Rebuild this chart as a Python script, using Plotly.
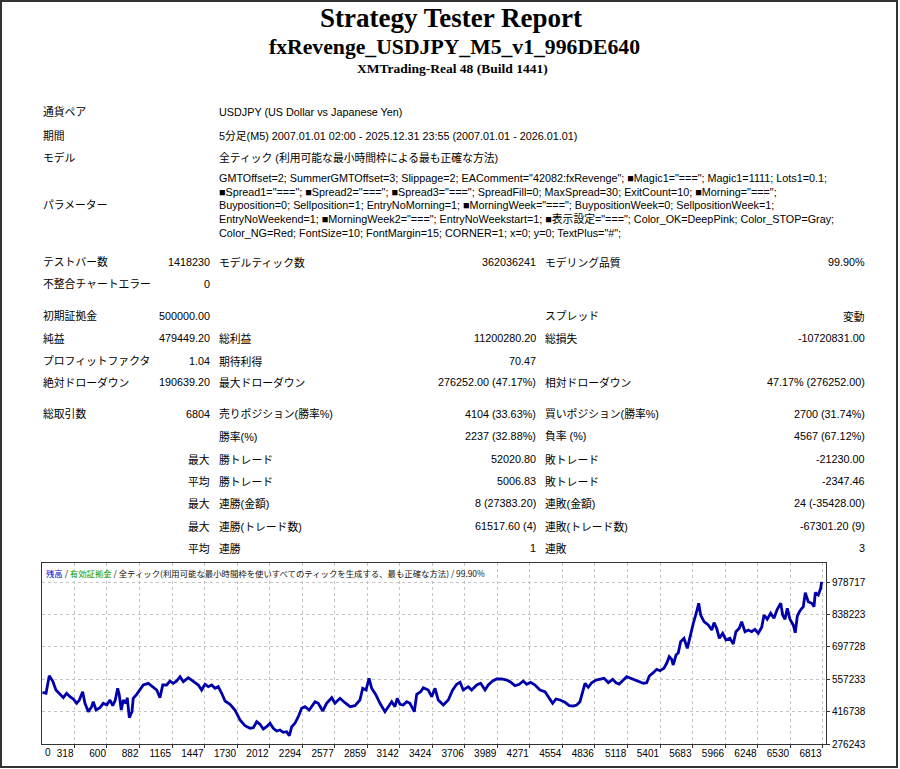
import plotly.graph_objects as go

# ---- report text ----
title_lines = ["Strategy Tester Report", "fxRevenge_USDJPY_M5_v1_996DE640", "XMTrading-Real 48 (Build 1441)"]

info_labels = ["通貨ペア", "期間", "モデル"]
info_values = [
    "USDJPY (US Dollar vs Japanese Yen)",
    "5分足(M5) 2007.01.01 02:00 - 2025.12.31 23:55 (2007.01.01 - 2026.01.01)",
    "全ティック (利用可能な最小時間枠による最も正確な方法)",
]
param_label = "パラメーター"
param_lines = [
    'GMTOffset=2; SummerGMTOffset=3; Slippage=2; EAComment="42082:fxRevenge"; ■Magic1="==="; Magic1=1111; Lots1=0.1;',
    '■Spread1="==="; ■Spread2="==="; ■Spread3="==="; SpreadFill=0; MaxSpread=30; ExitCount=10; ■Morning="===";',
    'Buyposition=0; Sellposition=1; EntryNoMorning=1; ■MorningWeek="==="; BuypositionWeek=0; SellpositionWeek=1;',
    'EntryNoWeekend=1; ■MorningWeek2="==="; EntryNoWeekstart=1; ■表示設定="==="; Color_OK=DeepPink; Color_STOP=Gray;',
    'Color_NG=Red; FontSize=10; FontMargin=15; CORNER=1; x=0; y=0; TextPlus="#";',
]

stat_label1 = ["テストバー数", "不整合チャートエラー", "初期証拠金", "純益", "プロフィットファクタ", "絶対ドローダウン",
               "総取引数", "", "", "", "", "", ""]
stat_value1 = ["1418230", "0", "500000.00", "479449.20", "1.04", "190639.20",
               "6804", "", "最大", "平均", "最大", "最大", "平均"]
stat_label2 = ["モデルティック数", "", "", "総利益", "期待利得", "最大ドローダウン",
               "売りポジション(勝率%)", "勝率(%)", "勝トレード", "勝トレード", "連勝(金額)", "連勝(トレード数)", "連勝"]
stat_value2 = ["362036241", "", "", "11200280.20", "70.47", "276252.00 (47.17%)",
               "4104 (33.63%)", "2237 (32.88%)", "52020.80", "5006.83", "8 (27383.20)", "61517.60 (4)", "1"]
stat_label3 = ["モデリング品質", "", "スプレッド", "総損失", "", "相対ドローダウン",
               "買いポジション(勝率%)", "負率 (%)", "敗トレード", "敗トレード", "連敗(金額)", "連敗(トレード数)", "連敗"]
stat_value3 = ["99.90%", "", "変動", "-10720831.00", "", "47.17% (276252.00)",
               "2700 (31.74%)", "4567 (67.12%)", "-21230.00", "-2347.46", "24 (-35428.00)", "-67301.20 (9)", "3"]

chart_caption = ["残高", "有効証拠金", "全ティック(利用可能な最小時間枠を使いすべてのティックを生成する、最も正確な方法)", "99.90%"]

# ---- balance curve (trade number, balance) ----
trade_no = [40, 71, 99, 129, 157, 192, 221, 250, 279, 308, 337, 360, 389, 409, 438, 467, 481, 505, 539, 568,
            598, 626, 650, 672, 693, 707, 724, 742, 765, 776, 794, 817, 828, 858, 887, 915, 959, 997, 1032, 1060,
            1084, 1118, 1147, 1176, 1205, 1234, 1263, 1306, 1349, 1393, 1422, 1451, 1480, 1509, 1538, 1566, 1596, 1625, 1668, 1711,
            1755, 1798, 1842, 1870, 1900, 1928, 1957, 1986, 2015, 2044, 2073, 2102, 2131, 2160, 2183, 2204, 2232, 2261, 2290, 2319,
            2356, 2406, 2434, 2473, 2507, 2551, 2579, 2623, 2666, 2710, 2753, 2796, 2820, 2849, 2875, 2898, 2935, 2970, 3013, 3042,
            3072, 3100, 3120, 3144, 3172, 3202, 3230, 3268, 3289, 3323, 3346, 3389, 3419, 3448, 3476, 3520, 3563, 3601, 3636, 3665,
            3693, 3737, 3766, 3810, 3844, 3882, 3910, 3948, 3983, 4027, 4070, 4099, 4142, 4179, 4214, 4244, 4278, 4316, 4359, 4402,
            4440, 4469, 4498, 4533, 4576, 4613, 4648, 4678, 4706, 4730, 4750, 4778, 4808, 4845, 4880, 4915, 4952, 4990, 5019, 5047,
            5082, 5112, 5146, 5184, 5221, 5256, 5285, 5308, 5343, 5372, 5401, 5435, 5459, 5481, 5502, 5516, 5540, 5560, 5580, 5609,
            5638, 5661, 5690, 5719, 5737, 5754, 5783, 5820, 5850, 5870, 5893, 5916, 5945, 5974, 6008, 6037, 6060, 6089, 6110, 6139,
            6167, 6197, 6225, 6254, 6284, 6304, 6332, 6362, 6390, 6419, 6449, 6466, 6486, 6506, 6529, 6558, 6575, 6593, 6616, 6645,
            6662, 6688, 6718, 6738, 6749, 6775, 6796, 6804]
balance = [500000, 496100, 572400, 549400, 510400, 491700, 477000, 496100, 481300, 471400,
           452700, 467000, 503000, 452700, 416300, 438000, 459700, 423700, 433600, 452700,
           445300, 467000, 442300, 467000, 517800, 488700, 423700, 467000, 452700, 477000,
           390300, 416300, 474400, 491700, 510400, 532100, 539400, 524700, 510400, 477000,
           532100, 532100, 549400, 539400, 549400, 568100, 546400, 563700, 546400, 532100,
           510400, 535100, 524700, 532100, 517800, 524700, 496100, 462700, 448400, 423700,
           380300, 355600, 344300, 346900, 372900, 361700, 341300, 351300, 366000, 344300,
           332600, 336900, 327000, 329600, 312200, 351300, 366000, 394600, 431000, 438000,
           423700, 459700, 452700, 419300, 452700, 477000, 452700, 474400, 455300, 438000,
           442300, 467000, 517800, 510400, 561100, 517800, 488700, 452700, 416300, 438000,
           459700, 438000, 474400, 448400, 445300, 459700, 452700, 416300, 491700, 503000,
           520400, 510400, 481300, 517800, 467000, 445300, 467000, 510400, 535100, 543800,
           510400, 524700, 510400, 532100, 539400, 510400, 532100, 549400, 558100, 558100,
           553700, 546400, 529000, 535100, 549400, 535100, 543800, 532100, 510400, 503000,
           477000, 452700, 471400, 467000, 457100, 442300, 441000, 445300, 459700, 503000,
           539400, 522100, 542000, 553700, 556800, 561100, 542000, 556800, 542000, 536400,
           553700, 568100, 561100, 553700, 546400, 539400, 542000, 571100, 585400, 600100,
           594100, 604500, 626200, 654800, 643500, 618800, 662100, 672100, 719800, 734600,
           691200, 741500, 799600, 849900, 886300, 835600, 806500, 792200, 770500, 802200,
           777900, 734600, 756200, 727200, 734600, 709800, 763200, 777900, 806500, 763200,
           770500, 763200, 773600, 756200, 782300, 835600, 816900, 843000, 821300, 860300,
           886300, 835600, 816900, 864600, 816900, 792200, 758800, 831300, 854200, 871600,
           932300, 893300, 886300, 871600, 932300, 922300, 951400, 979449]

x_ticks = [318, 600, 882, 1165, 1447, 1730, 2012, 2294, 2577, 2859, 3142, 3424,
           3706, 3989, 4271, 4554, 4836, 5118, 5401, 5683, 5966, 6248, 6530, 6813]
y_ticks = [276243, 416738, 557233, 697728, 838223, 978717]

W, H = 900, 769
BODY = "Liberation Sans, Noto Sans CJK JP, sans-serif"
SERIF = "Liberation Serif, serif"
TXT = 10.8


def px(x):
    return x / W


def py(y):
    return 1 - y / H


fig = go.Figure()
fig.add_trace(go.Scatter(x=trade_no, y=balance, mode="lines",
                         line=dict(color="#0000AA", width=2.8), hoverinfo="skip"))


def note(text, x, y, anchor="left", size=TXT, family=BODY, color="#000"):
    fig.add_annotation(text=text, x=px(x), y=py(y), xref="paper", yref="paper",
                       xanchor=anchor, yanchor="middle", showarrow=False,
                       font=dict(family=family, size=size, color=color))


# header
note("<b>" + title_lines[0] + "</b>", 451, 18.5, "center", 27, SERIF)
note("<b>" + title_lines[1] + "</b>", 454, 47, "center", 21.7, SERIF)
note("<b>" + title_lines[2] + "</b>", 453, 68, "center", 13.5, SERIF)

# settings block
info_y = [112, 135.5, 157.5]
for lab, val, y in zip(info_labels, info_values, info_y):
    note(lab, 41, y)
    note(val, 217, y)
param_y = [178, 191.7, 205.3, 219, 232.6]
note(param_label, 41, 205.3)
for line, y in zip(param_lines, param_y):
    note(line, 217, y)

# statistics grid
row_y = [262, 284, 316, 338, 361, 382, 414, 436, 459, 481, 503, 526, 548]
for i, y in enumerate(row_y):
    if stat_label1[i]:
        note(stat_label1[i], 41, y)
    if stat_value1[i]:
        note(stat_value1[i], 212, y, "right")
    if stat_label2[i]:
        note(stat_label2[i], 217, y)
    if stat_value2[i]:
        note(stat_value2[i], 538, y, "right")
    if stat_label3[i]:
        note(stat_label3[i], 543, y)
    if stat_value3[i]:
        note(stat_value3[i], 867, y, "right")

# chart caption
cap = ('<span style="color:#0000C8">%s</span> / <span style="color:#00A000">%s</span> / %s / %s'
       % tuple(chart_caption))
note(cap, 44, 572.5, "left", 8.4, "Noto Sans CJK JP, sans-serif", "#111")
note("0", 43, 752.5, "left", 10, BODY)

grid = dict(showgrid=True, gridcolor="#c4c4c4", gridwidth=1, griddash="3px,3px",
            showline=True, linecolor="#333", linewidth=1, mirror=True,
            ticks="outside", ticklen=3, tickcolor="#333", zeroline=False,
            tickfont=dict(family=BODY, size=10, color="#000"), automargin=False)

fig.update_layout(
    width=W, height=H, margin=dict(l=0, r=0, t=0, b=0),
    paper_bgcolor="white", plot_bgcolor="white", showlegend=False,
    xaxis=dict(domain=[px(42), px(826)], range=[36, 6842], tickvals=x_ticks,
               ticktext=[str(v) for v in x_ticks], ticklabelposition="outside left", **grid),
    yaxis=dict(domain=[py(744), py(563)], range=[276240, 1061100], side="right",
               tickvals=y_ticks, ticktext=[str(v) for v in y_ticks], **grid),
    shapes=[dict(type="rect", xref="paper", yref="paper", x0=px(1), x1=px(897), y0=py(767), y1=py(1),
                 line=dict(color="#333", width=2))],
)

fig.write_html("out.html", config={"displayModeBar": False},
               post_script="document.body.style.margin='0';document.body.style.overflow='hidden';")
